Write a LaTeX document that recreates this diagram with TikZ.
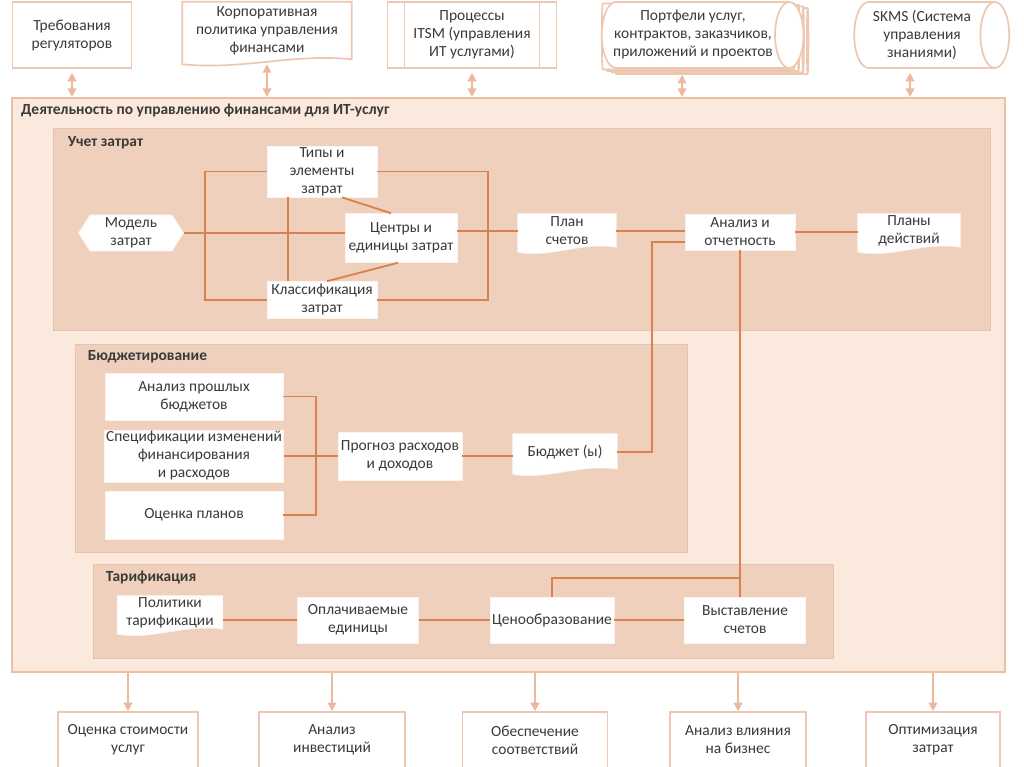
\documentclass[tikz,border=0pt]{standalone}
\usepackage{fontspec}
\setmainfont{Carlito}
\usetikzlibrary{shapes.geometric,shapes.symbols,arrows.meta,calc}

\newlength{\pu}\setlength{\pu}{0.025cm}
\pgfdeclarelayer{back}\pgfdeclarelayer{mid}
\pgfsetlayers{back,mid,main}

\definecolor{lineor}{HTML}{D9824F}
\definecolor{mainfill}{HTML}{FBE9DE}
\definecolor{mainline}{HTML}{EDBFA3}
\definecolor{regfill}{HTML}{EFD0BD}
\definecolor{regline}{HTML}{E8C2AA}
\definecolor{boxline}{HTML}{EDC7B0}
\definecolor{arrowc}{HTML}{EDB89E}
\definecolor{textc}{HTML}{3A3A3A}

\tikzset{
  txt/.style={font=\fontsize{11}{12.8}\selectfont, text=textc, align=center, inner sep=1pt},
  topbox/.style={txt, draw=boxline, fill=white, line width=1.2pt},
  wbox/.style={txt, fill=white, draw=white!80!regline, line width=0.4pt},
  doc/.style={txt},
  docshape/.style={fill=white, draw=white!80!regline, line width=0.4pt},
  topdoc/.style={fill=white, draw=boxline, line width=1.2pt},
  cyl/.style={txt, cylinder, aspect=0.55, draw=boxline, fill=white, line width=1.2pt},
  ttl/.style={font=\fontsize{11}{12.8}\selectfont\bfseries, text=textc, anchor=north west, inner sep=0pt},
  region/.style={draw=regline, fill=regfill, line width=0.6pt},
  c/.style={draw=lineor, line width=1.3pt},
  io/.style={draw=arrowc, line width=1.6pt},
}

% wavy bottom of a document node
\newcommand{\docbg}[2]{%
  \filldraw[#2] (#1.north west) -- (#1.north east) -- ([yshift=1\pu]#1.south east)
    .. controls ($(#1.south east)!0.35!(#1.south west)+(0,-7)$) and ($(#1.south east)!0.65!(#1.south west)+(0,10)$)
    .. ([yshift=-4\pu]#1.south west) -- cycle;}

\begin{document}
\begin{tikzpicture}[x=0.025cm, y=-0.025cm]
\useasboundingbox (0,0) rectangle (1024,767);

% frames
\begin{pgfonlayer}{back}
  \node[draw=mainline, fill=mainfill, line width=1.6pt, minimum width=993\pu, minimum height=574\pu] (main) at (508.5,385) {};
  \node[region, minimum width=937\pu, minimum height=202\pu] (uchet) at (521.5,229) {};
  \node[region, minimum width=612\pu, minimum height=208\pu] (budg) at (381,448) {};
  \node[region, minimum width=740\pu, minimum height=94\pu] (tarif) at (463,611) {};
\end{pgfonlayer}
\node[ttl] (tmain) at ([xshift=10\pu,yshift=-7\pu]main.north west) {Деятельность по управлению финансами для ИТ-услуг};
\node[ttl] (tuchet) at ([xshift=15\pu,yshift=-9\pu]uchet.north west) {Учет затрат};
\node[ttl] (tbudg) at ([xshift=13\pu,yshift=-7\pu]budg.north west) {Бюджетирование};
\node[ttl] (ttarif) at ([xshift=13\pu,yshift=-7\pu]tarif.north west) {Тарификация};

% top row
\node[topbox, minimum width=119\pu, minimum height=66\pu] (treb) at (72,35) {Требования\\регуляторов};
\node[doc, minimum width=169\pu, minimum height=58\pu] (corp) at (267,31) {Корпоративная\\политика управления\\финансами};
\node[topbox, minimum width=169\pu, minimum height=66\pu,
  path picture={\draw[boxline, line width=1.2pt]
    ([xshift=17\pu]path picture bounding box.north west) -- ([xshift=17\pu]path picture bounding box.south west)
    ([xshift=-17\pu]path picture bounding box.north east) -- ([xshift=-17\pu]path picture bounding box.south east);}]
  (itsm) at (472,35) {Процессы\\ITSM (управления\\ИТ услугами)};
\foreach \k in {4,3,2,1}
  \node[cyl, minimum width=66\pu, minimum height=193\pu] (port\k) at (693+4.5*\k,35+1.5*\k) {};
\node[cyl, minimum width=66\pu, minimum height=193\pu] (port) at (693,35) {Портфели услуг,\\контрактов, заказчиков,\\приложений и проектов};
\node[cyl, minimum width=66\pu, minimum height=155\pu] (skms) at (922,35) {SKMS (Система\\управления\\знаниями)};

% cost accounting
\node[wbox, shape=signal, signal to=east and west, signal pointer angle=115, minimum width=105\pu, minimum height=36\pu] (mod) at (131,233) {Модель\\затрат};
\node[wbox, minimum width=110\pu, minimum height=51\pu] (tip) at (322,171.5) {Типы и\\элементы\\затрат};
\node[wbox, minimum width=112\pu, minimum height=49\pu] (cen) at (401,238) {Центры и\\единицы затрат};
\node[wbox, minimum width=110\pu, minimum height=37\pu] (kl) at (322,300) {Классификация\\затрат};
\node[doc, minimum width=98\pu, minimum height=34\pu] (plan) at (567,231) {План\\счетов};
\node[wbox, minimum width=110\pu, minimum height=36\pu] (ana) at (740,232) {Анализ и\\отчетность};
\node[doc, minimum width=102\pu, minimum height=34\pu] (plany) at (909,231) {Планы\\действий};

% budgeting
\node[wbox, minimum width=178\pu, minimum height=47\pu] (an1) at (194,396.5) {Анализ прошлых\\бюджетов};
\node[wbox, minimum width=178\pu, minimum height=48\pu] (spec) at (194,456) {Спецификации изменений\\финансирования\\и расходов};
\node[wbox, minimum width=178\pu, minimum height=48\pu] (ocen) at (194,515) {Оценка планов};
\node[wbox, minimum width=124\pu, minimum height=48\pu] (prog) at (400,456) {Прогноз расходов\\и доходов};
\node[doc, minimum width=104\pu, minimum height=36\pu] (bud) at (565,452) {Бюджет (ы)};

% charging
\node[doc, minimum width=105\pu, minimum height=34\pu] (pol) at (170,613) {Политики\\тарификации};
\node[wbox, minimum width=121\pu, minimum height=46\pu] (opl) at (358,620) {Оплачиваемые\\единицы};
\node[wbox, minimum width=124\pu, minimum height=46\pu] (price) at (552,620) {Ценообразование};
\node[wbox, minimum width=121\pu, minimum height=46\pu] (vys) at (745,620) {Выставление\\счетов};

% outputs
\node[topbox, minimum width=140\pu, minimum height=56\pu] (b1) at (128,740) {Оценка стоимости\\услуг};
\node[topbox, minimum width=146\pu, minimum height=56\pu] (b2) at (332,740) {Анализ\\инвестиций};
\node[topbox, minimum width=145\pu, minimum height=56\pu] (b3) at (535,740) {Обеспечение\\соответствий};
\node[topbox, minimum width=136\pu, minimum height=56\pu] (b4) at (738,740) {Анализ влияния\\на бизнес};
\node[topbox, minimum width=134\pu, minimum height=56\pu] (b5) at (933,740) {Оптимизация\\затрат};

\begin{pgfonlayer}{mid}
  \docbg{corp}{topdoc}
  \foreach \n in {plan,plany,bud,pol} {\docbg{\n}{docshape}}
\end{pgfonlayer}

% junctions
\coordinate (ll) at (205,0);
\coordinate (rr) at (488,0);
\coordinate (jb) at (652,0);
\coordinate (jb2) at (316,0);
\coordinate (jt) at (0,578);

% connectors
\draw[c] (tip.west) -| (ll |- kl.west) -- (kl.west);
\draw[c] (tip.east) -| (rr |- kl.east) -- (kl.east);
\draw[c] (mod.east) -- (mod.east -| cen.west);
\draw[c] ([xshift=-34\pu]tip.south) -- ([xshift=-34\pu]kl.north);
\draw[c] ([xshift=20\pu]tip.south) -- ([xshift=-10\pu]cen.north);
\draw[c] ([xshift=-3\pu]cen.south) -- ([xshift=5\pu]kl.north);
\draw[c] (cen.east |- plan.west) -- (plan.west);
\draw[c] (plan.east) -- (ana.west |- plan.east);
\draw[c] (ana.east) -- (plany.west |- ana.east);
\draw[c] ([yshift=-10\pu]ana.west) -| (jb |- bud.east) -- (bud.east);
\draw[c] (ana.south) -- (ana.south |- vys.north);
\draw[c] (price.north) |- (ana.south |- jt);

\draw[c] (an1.east) -| (jb2 |- ocen.east) -- (ocen.east);
\draw[c] (spec.east) -- (prog.west);
\draw[c] (prog.east) -- (bud.west |- prog.east);

\draw[c] (pol.east |- opl.west) -- (opl.west);
\draw[c] (opl.east) -- (price.west);
\draw[c] (price.east) -- (vys.west);

% inputs and outputs
\foreach \n in {treb,corp,itsm}
  \draw[io, {Triangle[length=6pt,width=6pt]}-{Triangle[length=6pt,width=6pt]}] ([yshift=-4\pu]\n.south) -- (\n.south |- main.north);
\draw[io, {Triangle[length=6pt,width=6pt]}-{Triangle[length=6pt,width=6pt]}] ([xshift=-11\pu,yshift=-6\pu]port.south) -- ([xshift=-11\pu]port.south |- main.north);
\draw[io, {Triangle[length=6pt,width=6pt]}-{Triangle[length=6pt,width=6pt]}] ([xshift=-12\pu,yshift=-4\pu]skms.south) -- ([xshift=-12\pu]skms.south |- main.north);
\foreach \n in {b1,b2,b3,b4,b5}
  \draw[io, -{Triangle[length=6pt,width=6pt]}] (\n.north |- main.south) -- (\n.north);

\end{tikzpicture}
\end{document}
